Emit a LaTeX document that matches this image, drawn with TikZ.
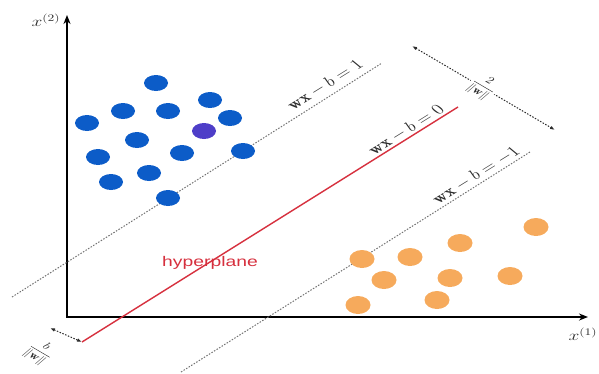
\documentclass[tikz,border=0pt]{standalone}
\usepackage{fontspec}
\newfontfamily\labelsans{Liberation Sans}
\usetikzlibrary{arrows.meta,shapes.geometric}

\definecolor{dotblue}{RGB}{12,92,200}
\definecolor{dotpurple}{RGB}{78,62,200}
\definecolor{dotorange}{RGB}{246,170,92}
\definecolor{planered}{RGB}{214,48,62}
\definecolor{guidegray}{RGB}{115,115,115}
\definecolor{inkgray}{RGB}{45,45,45}

\tikzset{
  sample/.style={ellipse, inner sep=0pt, minimum width=24pt, minimum height=16pt},
  classA/.style={sample, fill=dotblue},
  classB/.style={sample, fill=dotorange, minimum width=25pt, minimum height=18pt},
  axisline/.style={line width=2.4pt, {Stealth[length=9pt,width=7pt]}-{Stealth[length=9pt,width=7pt]}},
  marginline/.style={guidegray, line width=1pt, dash pattern=on 1.5pt off 1.5pt},
  hyperline/.style={planered, line width=1.4pt},
  measure/.style={inkgray, line width=1pt, dash pattern=on 1.5pt off 1.5pt,
    {Latex[length=5pt,width=3.5pt]}-{Latex[length=5pt,width=3.5pt]}},
  eqlabel/.style={inkgray, font=\fontsize{14}{16}\selectfont, inner sep=1pt, xscale=1.4, rotate=41},
  fraclabel/.style={inkgray, font=\fontsize{10}{12}\selectfont, inner sep=1pt, xscale=1.4, rotate=-39.5},
  axislabel/.style={inkgray, font=\fontsize{14}{16}\selectfont, inner sep=0pt, xscale=1.35},
}

\begin{document}
\begin{tikzpicture}[x=1pt,y=-1pt]
\useasboundingbox (0,0) rectangle (599,373);

% axes
\coordinate (O) at (67,317);
\coordinate (ytip) at (67,15);
\coordinate (xtip) at (588,317);
\draw[axisline] (ytip) |- (xtip);
\node[axislabel] (ylab) at (46,20) {$x^{(2)}$};
\node[axislabel] (xlab) at (583,334) {$x^{(1)}$};

% margin boundaries and separating hyperplane
\coordinate (up1) at (12,297);
\coordinate (up2) at (382,63);
\coordinate (lo1) at (181,372);
\coordinate (lo2) at (530,152);
\coordinate (hp1) at (82,342);
\coordinate (hp2) at (458,107);
\draw[marginline] (up1) -- (up2);
\draw[marginline] (lo1) -- (lo2);
\draw[hyperline] (hp1) -- (hp2);

\node[eqlabel] (eq1) at (325,85) {$\mathbf{wx}-b=1$};
\node[eqlabel] (eq0) at (406,130) {$\mathbf{wx}-b=0$};
\node[eqlabel] (eqm1) at (476,175) {$\mathbf{wx}-b=-1$};

% margin width
\coordinate (mw1) at (412,46);
\coordinate (mw2) at (555,130);
\draw[measure] (mw1) -- (mw2);
\node[fraclabel, fill=white] (mwlab) at (483,87) {$\displaystyle\frac{2}{\|\mathbf{w}\|}$};

% offset of the hyperplane
\coordinate (of1) at (50,328);
\draw[measure] (of1) -- (hp1);
\node[fraclabel] (oflab) at (40,352) {$\displaystyle\frac{b}{\|\mathbf{w}\|}$};

\node[planered, font=\labelsans\fontsize{14}{16}\selectfont, inner sep=0pt, xscale=1.38] (hplab) at (210,263) {hyperplane};

% class A samples
\foreach \n/\x/\y in {a1/156/83, a2/210/100, a3/123/111, a4/168/111, a5/230/118,
  a6/87/123, a7/137/140, a8/98/157, a9/182/153, a10/243/151, a11/149/173,
  a12/111/182, a13/168/198}
  \node[classA] (\n) at (\x,\y) {};
\node[sample, fill=dotpurple] (a14) at (204,131) {};

% class B samples
\foreach \n/\x/\y in {b1/536/227, b2/460/243, b3/362/259, b4/410/257, b5/384/280,
  b6/450/278, b7/510/276, b8/358/305, b9/437/300}
  \node[classB] (\n) at (\x,\y) {};
\end{tikzpicture}
\end{document}
